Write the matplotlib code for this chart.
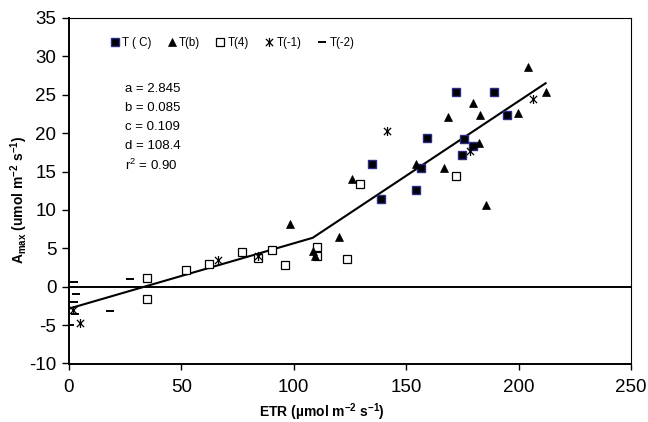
import matplotlib
matplotlib.use("Agg")
import matplotlib.pyplot as plt
from matplotlib.path import Path

plt.rcParams['font.family'] = ['Liberation Sans', 'DejaVu Sans']
plt.rcParams['mathtext.default'] = 'regular'
plt.rcParams['axes.unicode_minus'] = False

# ---- data ----
tc_x = [134.8, 138.6, 154.3, 156.8, 159.4, 172.1, 175.0, 175.5, 179.8, 189.2, 194.8]
tc_y = [16.0, 11.4, 12.6, 15.5, 19.4, 25.3, 17.15, 19.2, 18.3, 25.3, 22.4]

tb_x = [98.2, 108.7, 109.5, 119.9, 126.0, 154.2, 166.6, 168.4, 179.5, 182.2, 182.9, 185.4, 199.6, 204.1, 212.1]
tb_y = [8.2, 4.6, 4.0, 6.5, 14.0, 16.0, 15.4, 22.1, 23.9, 18.75, 22.4, 10.6, 22.6, 28.6, 25.4]

t4_x = [34.9, 34.9, 52.0, 62.3, 76.9, 84.0, 90.3, 96.1, 110.5, 110.3, 123.6, 129.5, 172.2]
t4_y = [1.15, -1.65, 2.2, 3.0, 4.5, 3.8, 4.8, 2.8, 5.2, 4.05, 3.6, 13.4, 14.4]

tm1_x = [2.0, 4.9, 66.2, 84.0, 141.6, 178.5, 206.5]
tm1_y = [-3.0, -4.7, 3.5, 4.0, 20.3, 17.7, 24.5]

tm2_x = [0.5, 2.2, 3.1, 2.2, 2.5, 18.4, 27.1]
tm2_y = [-5.0, 0.6, -1.0, -2.0, -3.6, -3.2, 1.0]

fit_x = [0.0, 108.4, 212.0]
fit_y = [-2.85, 6.37, 26.5]

series_names = ['T ( C)', 'T(b)', 'T(4)', 'T(-1)', 'T(-2)']
param_lines = ['a = 2.845', 'b = 0.085', 'c = 0.109', 'd = 108.4', 'r$^{2}$ = 0.90']

xticks = [0, 50, 100, 150, 200, 250]
yticks = [-10, -5, 0, 5, 10, 15, 20, 25, 30, 35]

# ---- figure ----
fig = plt.figure(figsize=(6.48, 4.22), dpi=100)
ax = fig.add_axes([69/648, 1-363.5/422, (631-69)/648, (363.5-18)/422])

ax.axhline(0, color='black', lw=1.4, zorder=1)
ax.plot(fit_x, fit_y, color='black', lw=1.5, zorder=2)

star = Path([(-1, -1), (1, 1), (-1, 1), (1, -1), (0, -1.25), (0, 1.25)],
            [Path.MOVETO, Path.LINETO, Path.MOVETO, Path.LINETO, Path.MOVETO, Path.LINETO])

h1, = ax.plot(tc_x, tc_y, ls='none', marker='s', ms=5.6, mfc='black', mec='#2B2B8C', mew=1.0, zorder=4)
h2, = ax.plot(tb_x, tb_y, ls='none', marker='^', ms=6.2, mfc='black', mec='black', mew=0.5, zorder=4)
h3, = ax.plot(t4_x, t4_y, ls='none', marker='s', ms=5.4, mfc='white', mec='black', mew=0.9, zorder=3)
h4, = ax.plot(tm1_x, tm1_y, ls='none', marker=star, ms=6.5, mfc='none', mec='black', mew=0.9, zorder=5)
h5, = ax.plot(tm2_x, tm2_y, ls='none', marker='_', ms=6, mec='black', mew=1.4, zorder=5)

ax.set_xlim(0, 250)
ax.set_ylim(-10, 35)
ax.set_xticks(xticks)
ax.set_yticks(yticks)
ax.tick_params(axis='both', labelsize=13.5, direction='out', width=1.0, colors='black')
ax.tick_params(axis='y', length=5, pad=4)
ax.tick_params(axis='x', length=4, pad=7)

for s in ['left', 'bottom']:
    ax.spines[s].set_linewidth(1.4)
for s in ['top', 'right']:
    ax.spines[s].set_linewidth(0.8)

leg = ax.legend([h1, h2, h3, h4, h5], series_names, loc='center left',
                bbox_to_anchor=(0.074, 0.927), ncol=5, frameon=False, fontsize=8.3,
                handlelength=0.7, handletextpad=0.3, columnspacing=1.4, borderpad=0, borderaxespad=0)

y0 = 0.7936
for i, t in enumerate(param_lines):
    ax.text(0.0996, y0 - i * 0.0548, t, transform=ax.transAxes, fontsize=9.5, va='center', ha='left')

fig.text(321.7/648, 1-412.5/422, 'ETR (\u00b5mol m$^{-2}$ s$^{-1}$)', fontsize=10, fontweight='bold',
         ha='center', va='center')
fig.text(19/648, 1-200/422, 'A$_{max}$ (umol m$^{-2}$ s$^{-1}$)', fontsize=10, fontweight='bold',
         ha='center', va='center', rotation=90)

fig.savefig('out.png', dpi=100)
